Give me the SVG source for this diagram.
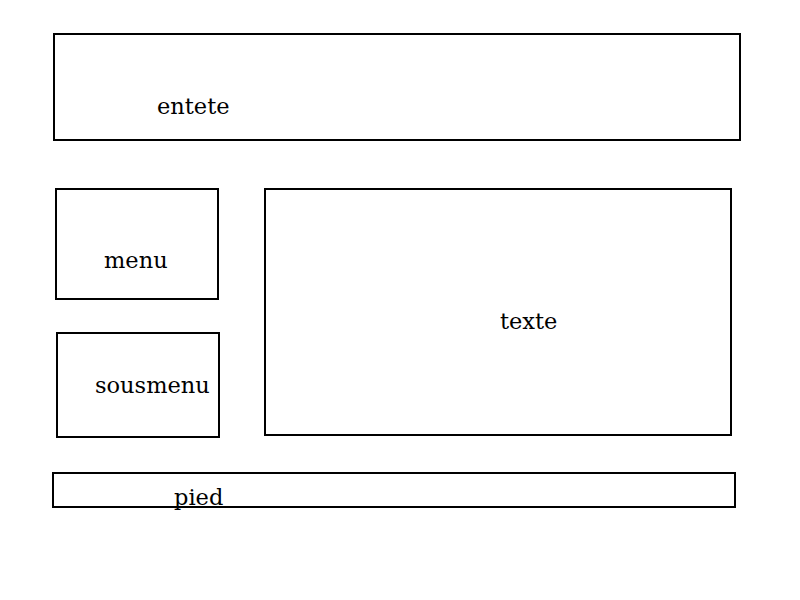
<svg xmlns="http://www.w3.org/2000/svg" width="800" height="600" viewBox="0 0 800 600">
<style>
.box{fill:#fff;stroke:#000;stroke-width:2}
.lbl{font-family:"DejaVu Serif","Liberation Serif",serif;font-size:22.5px;fill:#000}
</style>
<rect width="800" height="600" fill="#fff"/>
<g id="entete"><rect class="box" x="54" y="34" width="686" height="106"/><text class="lbl" x="157" y="114">entete</text></g>
<g id="menu"><rect class="box" x="56" y="189" width="162" height="110"/><text class="lbl" x="104" y="268">menu</text></g>
<g id="sousmenu"><rect class="box" x="57" y="333" width="162" height="104"/><text class="lbl" x="95" y="393">sousmenu</text></g>
<g id="texte"><rect class="box" x="265" y="189" width="466" height="246"/><text class="lbl" x="500" y="329">texte</text></g>
<g id="pied"><rect class="box" x="53" y="473" width="682" height="34"/><text class="lbl" x="174" y="505">pied</text></g>
<g id="connectors"></g>
</svg>
